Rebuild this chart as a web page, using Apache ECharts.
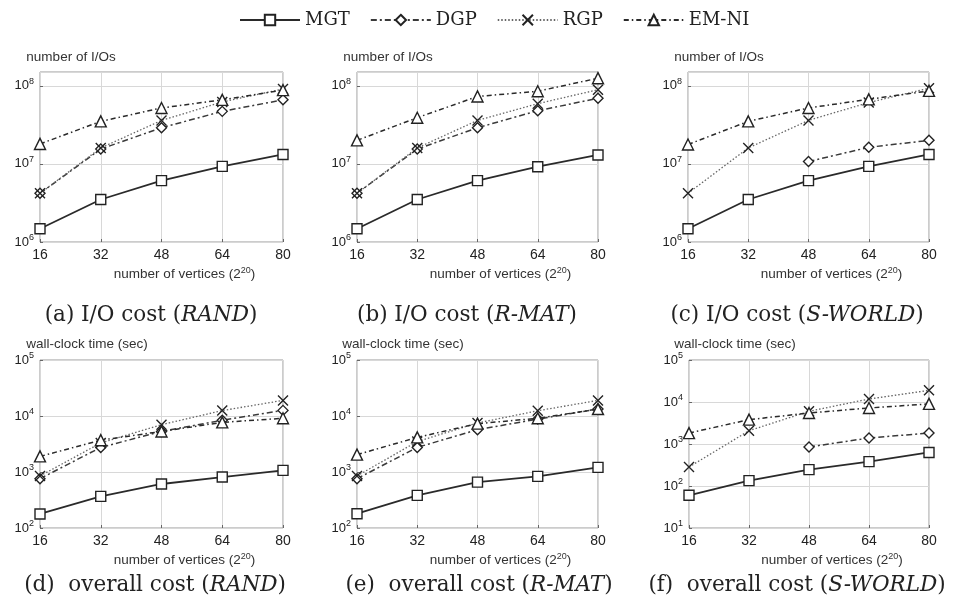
<!DOCTYPE html>
<html>
<head>
<meta charset="utf-8">
<script src="https://cdn.jsdelivr.net/npm/echarts@6/dist/echarts.min.js"></script>
<style>
  html, body { margin: 0; background: #fff; }
  #chart { width: 956px; height: 605px; }
</style>
</head>
<body>
<div id="chart"></div>
<script>
// x values: number of vertices (2^20)
const vertices = [16, 32, 48, 64, 80]
const seriesNames = ['MGT', 'DGP', 'RGP', 'EM-NI']

// (a) I/O cost (RAND)
const ioRandMGT = [1.48e6, 3.5e6, 6.1e6, 9.3e6, 1.32e7]
const ioRandDGP = [4.2e6, 1.55e7, 2.9e7, 4.7e7, 6.6e7]
const ioRandRGP = [4.2e6, 1.6e7, 3.6e7, 6.2e7, 9.1e7]
const ioRandEMNI = [1.8e7, 3.5e7, 5.2e7, 6.6e7, 8.8e7]

// (b) I/O cost (R-MAT)
const ioRmatMGT = [1.48e6, 3.5e6, 6.1e6, 9.2e6, 1.3e7]
const ioRmatDGP = [4.2e6, 1.55e7, 2.9e7, 4.8e7, 6.9e7]
const ioRmatRGP = [4.2e6, 1.6e7, 3.6e7, 5.9e7, 8.9e7]
const ioRmatEMNI = [2.0e7, 3.9e7, 7.3e7, 8.5e7, 1.25e8]

// (c) I/O cost (S-WORLD)
const ioSworldMGT = [1.48e6, 3.5e6, 6.1e6, 9.3e6, 1.32e7]
const ioSworldDGP = [null, null, 1.07e7, 1.63e7, 2.0e7]
const ioSworldRGP = [4.2e6, 1.6e7, 3.6e7, 6.1e7, 9.3e7]
const ioSworldEMNI = [1.77e7, 3.5e7, 5.2e7, 6.7e7, 8.6e7]

// (d) overall cost (RAND), seconds
const timeRandMGT = [178, 367, 611, 813, 1070]
const timeRandDGP = [760, 2750, 5300, 8400, 12600]
const timeRandRGP = [850, 3300, 7000, 12500, 19000]
const timeRandEMNI = [1900, 3700, 5300, 7700, 9100]

// (e) overall cost (R-MAT), seconds
const timeRmatMGT = [180, 383, 660, 835, 1210]
const timeRmatDGP = [760, 2750, 5700, 8800, 13300]
const timeRmatRGP = [850, 3500, 7500, 12400, 19000]
const timeRmatEMNI = [2040, 4150, 7300, 9100, 13300]

// (f) overall cost (S-WORLD), seconds
const timeSworldMGT = [60, 134, 245, 380, 630]
const timeSworldDGP = [null, null, 850, 1390, 1830]
const timeSworldRGP = [283, 2070, 6000, 11800, 19000]
const timeSworldEMNI = [1820, 3800, 5470, 7200, 9000]

const panels = [
  { grid: { left: 40, top: 72, width: 243, height: 170 }, min: 1e6, max: 1.5e8, yName: 'number of I/Os', nameShift: 62,
    data: [ioRandMGT, ioRandDGP, ioRandRGP, ioRandEMNI], caption: ['(a) I/O cost (', 'RAND', ')'], cx: 151, cy: 315 },
  { grid: { left: 357, top: 72, width: 241, height: 170 }, min: 1e6, max: 1.5e8, yName: 'number of I/Os', nameShift: 62,
    data: [ioRmatMGT, ioRmatDGP, ioRmatRGP, ioRmatEMNI], caption: ['(b) I/O cost (', 'R-MAT', ')'], cx: 467, cy: 315 },
  { grid: { left: 688, top: 72, width: 241, height: 170 }, min: 1e6, max: 1.5e8, yName: 'number of I/Os', nameShift: 62,
    data: [ioSworldMGT, ioSworldDGP, ioSworldRGP, ioSworldEMNI], caption: ['(c) I/O cost (', 'S-WORLD', ')'], cx: 797, cy: 315 },
  { grid: { left: 40, top: 360, width: 243, height: 168 }, min: 1e2, max: 1e5, yName: 'wall-clock time (sec)', nameShift: 94,
    data: [timeRandMGT, timeRandDGP, timeRandRGP, timeRandEMNI], caption: ['(d)  overall cost (', 'RAND', ')'], cx: 155, cy: 585 },
  { grid: { left: 357, top: 360, width: 241, height: 168 }, min: 1e2, max: 1e5, yName: 'wall-clock time (sec)', nameShift: 92,
    data: [timeRmatMGT, timeRmatDGP, timeRmatRGP, timeRmatEMNI], caption: ['(e)  overall cost (', 'R-MAT', ')'], cx: 479, cy: 585 },
  { grid: { left: 689, top: 360, width: 240, height: 168 }, min: 1e1, max: 1e5, yName: 'wall-clock time (sec)', nameShift: 92,
    data: [timeSworldMGT, timeSworldDGP, timeSworldRGP, timeSworldEMNI], caption: ['(f)  overall cost (', 'S-WORLD', ')'], cx: 797, cy: 585 },
]

// 每条线的样式
const lineStyles = [
  { type: 'solid', width: 1.8, color: '#2a2a2a', symbol: 'rect', symbolSize: 10 },
  { type: [6, 3, 2, 3], width: 1.5, color: '#3a3a3a', symbol: 'diamond', symbolSize: 10 },
  { type: [1.5, 2], width: 1.3, color: '#666', symbol: 'path://M0,0L10,10M10,0L0,10', symbolSize: 10 },
  { type: [5, 3, 1.5, 3], width: 1.5, color: '#2a2a2a', symbol: 'triangle', symbolSize: 11 },
]

const sans = 'Liberation Sans'
const serif = 'DejaVu Serif'

const grids = []
const xAxes = []
const yAxes = []
const series = []
const graphics = []

panels.forEach((p, i) => {
  grids.push({
    ...p.grid,
    show: true,
    borderColor: '#999',
    borderWidth: 1,
    backgroundColor: '#fff',
  })
  xAxes.push({
    type: 'value',
    gridIndex: i,
    min: 16,
    max: 80,
    interval: 16,
    name: 'number of vertices (2{s|20})',
    nameLocation: 'middle',
    nameGap: 24,
    nameTextStyle: {
      fontFamily: sans,
      fontSize: 13.5,
      color: '#333',
      padding: [0, 0, 0, 46],
      rich: { s: { fontFamily: sans, fontSize: 9, color: '#333', verticalAlign: 'top', padding: [0, 0, 7, 0] } },
    },
    axisLine: { show: false },
    axisTick: { inside: true, length: 3, lineStyle: { color: '#666' } },
    axisLabel: { fontFamily: sans, fontSize: 14, color: '#222', margin: 6 },
    splitLine: { show: true, lineStyle: { color: '#d8d8d8', type: 'solid', width: 1 } },
  })
  yAxes.push({
    type: 'log',
    logBase: 10,
    gridIndex: i,
    min: p.min,
    max: p.max,
    name: p.yName,
    nameLocation: 'end',
    nameGap: 8,
    nameTextStyle: {
      fontFamily: sans,
      fontSize: 13.5,
      color: '#333',
      align: 'center',
      padding: [0, 0, 0, p.nameShift],
    },
    axisLine: { show: false },
    axisTick: { inside: true, length: 3, lineStyle: { color: '#666' } },
    axisLabel: {
      margin: 6,
      showMaxLabel: p.max === 1e5,
      formatter: (v) => {
        const e = Math.log10(v)
        if (Math.abs(e - Math.round(e)) > 1e-6) return ''
        return '{b|10}{s|' + Math.round(e) + '}'
      },
      rich: {
        b: { fontFamily: sans, fontSize: 13, color: '#222' },
        s: { fontFamily: sans, fontSize: 9, color: '#222', verticalAlign: 'top', padding: [0, 0, 8, 0] },
      },
    },
    splitLine: { show: true, lineStyle: { color: '#d8d8d8', type: 'solid', width: 1 } },
  })
  p.data.forEach((vals, k) => {
    const st = lineStyles[k]
    series.push({
      name: seriesNames[k],
      type: 'line',
      xAxisIndex: i,
      yAxisIndex: i,
      data: vertices.map((x, j) => [x, vals[j]]),
      connectNulls: false,
      symbol: st.symbol,
      symbolSize: st.symbolSize,
      showAllSymbol: true,
      color: st.color,
      lineStyle: { type: st.type, width: st.width, color: st.color },
      itemStyle: { color: '#fff', borderColor: '#222', borderWidth: 1.4 },
      emphasis: { disabled: true },
      animation: false,
      z: 3 + k,
    })
  })
  graphics.push({
    type: 'text',
    x: p.cx,
    y: p.cy,
    style: {
      text: '{n|' + p.caption[0] + '}{i|' + p.caption[1] + '}{n|' + p.caption[2] + '}',
      align: 'center',
      verticalAlign: 'middle',
      rich: {
        n: { fontFamily: serif, fontSize: 21.5, fill: '#222', color: '#222' },
        i: { fontFamily: serif, fontSize: 21.5, fontStyle: 'italic', fill: '#222', color: '#222' },
      },
    },
  })
})

const chart = echarts.init(document.getElementById('chart'))
chart.setOption({
  animation: false,
  backgroundColor: '#fff',
  legend: {
    top: 6,
    left: 234,
    itemWidth: 60,
    itemHeight: 13,
    itemGap: 20,
    textStyle: { fontFamily: serif, fontSize: 18, color: '#222' },
    data: seriesNames,
  },
  grid: grids,
  xAxis: xAxes,
  yAxis: yAxes,
  series: series,
  graphic: graphics,
})
</script>
</body>
</html>
